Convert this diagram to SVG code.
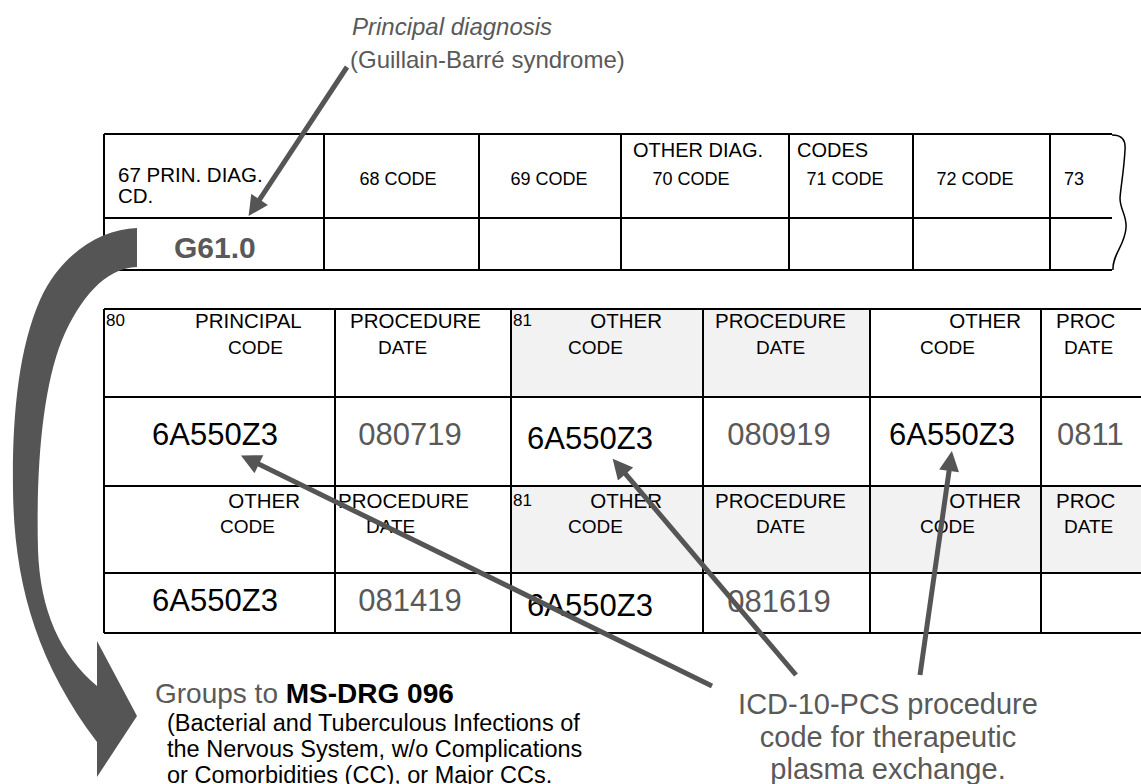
<svg xmlns="http://www.w3.org/2000/svg" width="1141" height="784" viewBox="0 0 1141 784">
<defs>
<style>
text{font-family:"Liberation Sans",Arial,sans-serif;fill:#000}
.g{fill:#595959}
.h1{font-size:20.5px}
.h2{font-size:19px}
.sm{font-size:17px}
.th{font-size:18px}
.val{font-size:31px}
.dt{font-size:31px;fill:#595959}
.tl{stroke:#000;stroke-width:2;fill:none}
.ar{stroke:#555;stroke-width:5;fill:none;marker-end:url(#ah)}
.shade{fill:#f2f2f2}
</style>
<marker id="ah" viewBox="0 0 10 10" refX="4" refY="5" markerWidth="4.4" markerHeight="4" orient="auto" markerUnits="strokeWidth">
<path d="M0,0 L10,5 L0,10 z" fill="#555"/>
</marker>
</defs>
<rect width="1141" height="784" fill="#fff"/>

<g id="principal-label">
<text x="352" y="35" class="g" font-size="24" font-style="italic">Principal diagnosis</text>
<text x="350" y="68" class="g" font-size="24">(Guillain-Barré syndrome)</text>
</g>

<g id="diag-table">
<path class="tl" d="M104,134 H1112 M104,218 H1112 M104,270 H1112 M104,134 V270 M324,134 V270 M479,134 V270 M621,134 V270 M789,134 V270 M913,134 V270 M1050,134 V270"/>
<path d="M1112,135 C1122,135 1126,140 1125,150 C1124,170 1121,185 1120,198 C1120,210 1127,215 1126,228 C1125,245 1112,255 1113,270" stroke="#000" stroke-width="1.5" fill="none"/>
<text x="118" y="182" font-size="20.5">67 PRIN. DIAG.</text>
<text x="118" y="203" font-size="20.5">CD.</text>
<text x="398" y="185" class="th" text-anchor="middle">68 CODE</text>
<text x="549" y="185" class="th" text-anchor="middle">69 CODE</text>
<text x="633" y="157" font-size="20">OTHER DIAG.</text>
<text x="797" y="157" font-size="20">CODES</text>
<text x="691" y="185" class="th" text-anchor="middle">70 CODE</text>
<text x="845" y="185" class="th" text-anchor="middle">71 CODE</text>
<text x="975" y="185" class="th" text-anchor="middle">72 CODE</text>
<text x="1064" y="185" class="th">73</text>
<text x="174" y="258" class="g" font-size="30" font-weight="bold">G61.0</text>
</g>

<g id="proc-table">
<rect class="shade" x="511" y="309" width="359" height="88"/>
<rect class="shade" x="511" y="486" width="630" height="87"/>
<path class="tl" d="M104,309 H1141 M104,397 H1141 M104,486 H1141 M104,573 H1141 M104,633 H1141 M104,309 V633 M335,309 V633 M511,309 V633 M703,309 V633 M870,309 V633 M1041,309 V633"/>
<text x="106" y="326" class="sm">80</text>
<text x="195" y="328" class="h1">PRINCIPAL</text>
<text x="228" y="354" class="h2">CODE</text>
<text x="350" y="328" class="h1">PROCEDURE</text>
<text x="378" y="354" class="h2">DATE</text>
<text x="513" y="326" class="sm">81</text>
<text x="662" y="328" class="h1" text-anchor="end">OTHER</text>
<text x="568" y="354" class="h2">CODE</text>
<text x="715" y="328" class="h1">PROCEDURE</text>
<text x="756" y="354" class="h2">DATE</text>
<text x="1021" y="328" class="h1" text-anchor="end">OTHER</text>
<text x="920" y="354" class="h2">CODE</text>
<text x="1056" y="328" class="h1">PROC</text>
<text x="1064" y="354" class="h2">DATE</text>

<text x="215" y="445" class="val" text-anchor="middle">6A550Z3</text>
<text x="410" y="445" class="dt" text-anchor="middle">080719</text>
<text x="590" y="449" class="val" font-size="34" text-anchor="middle">6A550Z3</text>
<text x="779" y="445" class="dt" text-anchor="middle">080919</text>
<text x="952" y="445" class="val" text-anchor="middle">6A550Z3</text>
<text x="1057" y="445" class="dt">0811</text>

<text x="300" y="508" class="h1" text-anchor="end">OTHER</text>
<text x="220" y="533" class="h2">CODE</text>
<text x="338" y="508" class="h1">PROCEDURE</text>
<text x="366" y="533" class="h2">DATE</text>
<text x="513" y="506" class="sm">81</text>
<text x="662" y="508" class="h1" text-anchor="end">OTHER</text>
<text x="568" y="533" class="h2">CODE</text>
<text x="715" y="508" class="h1">PROCEDURE</text>
<text x="756" y="533" class="h2">DATE</text>
<text x="1021" y="508" class="h1" text-anchor="end">OTHER</text>
<text x="920" y="533" class="h2">CODE</text>
<text x="1056" y="508" class="h1">PROC</text>
<text x="1064" y="533" class="h2">DATE</text>

<text x="215" y="611" class="val" text-anchor="middle">6A550Z3</text>
<text x="410" y="611" class="dt" text-anchor="middle">081419</text>
<text x="590" y="616" class="val" font-size="34" text-anchor="middle">6A550Z3</text>
<text x="779" y="612" class="dt" text-anchor="middle">081619</text>
</g>

<g id="drg-label">
<text x="155" y="703" font-size="28"><tspan class="g">Groups to </tspan><tspan font-weight="bold">MS-DRG 096</tspan></text>
<text x="167" y="731" font-size="23.5">(Bacterial and Tuberculous Infections of</text>
<text x="167" y="757" font-size="23.5">the Nervous System, w/o Complications</text>
<text x="167" y="783" font-size="23.5">or Comorbidities (CC), or Major CCs.</text>
</g>

<g id="pcs-label">
<text x="888" y="714" class="g" font-size="29" text-anchor="middle">ICD-10-PCS procedure</text>
<text x="888" y="747" class="g" font-size="29" text-anchor="middle">code for therapeutic</text>
<text x="888" y="779" class="g" font-size="29" text-anchor="middle">plasma exchange.</text>
</g>

<g id="connectors">
<path d="M137,228 C100,229 60,255 40,300 C18,350 12,420 13,490 C14,580 35,660 97,742 L97,777 L137,716 L97,641 L97,686 C60,655 40,610 38,550 C36,470 42,390 62,340 C80,298 105,268 137,267 Z" fill="#555"/>
<line class="ar" x1="347" y1="67" x2="255.2" y2="206.1"/>
<line class="ar" x1="712" y1="686" x2="251.7" y2="460.7"/>
<line class="ar" x1="796" y1="675" x2="620.4" y2="467.9"/>
<line class="ar" x1="920" y1="675" x2="950.2" y2="462.9"/>
</g>
</svg>
